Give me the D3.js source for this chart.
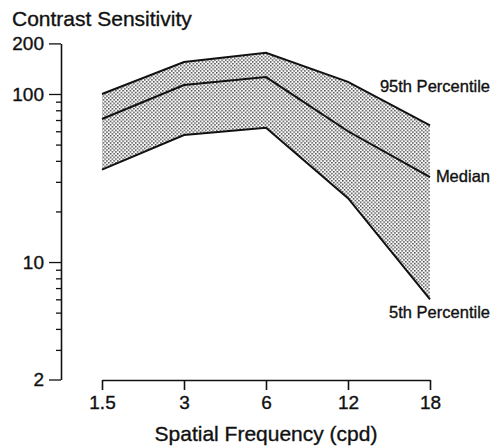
<!DOCTYPE html>
<html>
<head>
<meta charset="utf-8">
<script src="https://cdn.jsdelivr.net/npm/d3@7"></script>
<style>
  body { margin: 0; background: #fff; }
  text { font-family: Helvetica, Arial, "Liberation Sans", sans-serif; fill: #111; stroke: #111; stroke-width: 0.35px; }
</style>
</head>
<body>
<svg id="chart"></svg>
<script>
// spatial frequency (cpd) and contrast sensitivity percentiles
var freqs  = ["1.5", "3", "6", "12", "18"];
var p95    = [100, 155, 176, 118, 65];
var median = [71, 113, 126, 60, 32];
var p5     = [35.5, 57, 63, 24, 6];
var yTickLabels = [2, 10, 100, 200];
var curveNames = ["95th Percentile", "Median", "5th Percentile"];

var svgWidth = 493, svgHeight = 448;
var svg = d3.select("#chart").attr("width", svgWidth).attr("height", svgHeight);

var x = d3.scalePoint().domain(freqs).range([102, 430]);
var y = d3.scaleLog().domain([2, 200]).range([379.5, 43.4]);

// stipple fill for the band
var defs = svg.append("defs");
var pat = defs.append("pattern")
  .attr("id", "dots")
  .attr("patternUnits", "userSpaceOnUse")
  .attr("width", 3.6).attr("height", 3.6);
pat.append("rect").attr("x", 0).attr("y", 0).attr("width", 1.5).attr("height", 1.5).attr("fill", "#444");
pat.append("rect").attr("x", 1.8).attr("y", 1.8).attr("width", 1.5).attr("height", 1.5).attr("fill", "#444");

var rows = freqs.map(function(f, i) {
  return { f: f, hi: p95[i], mid: median[i], lo: p5[i] };
});

var area = d3.area()
  .x(function(d) { return x(d.f); })
  .y0(function(d) { return y(d.lo); })
  .y1(function(d) { return y(d.hi); });

svg.append("path").datum(rows)
  .attr("d", area)
  .attr("fill", "url(#dots)");

var series = [p95, median, p5];
var line = d3.line()
  .x(function(d, i) { return x(freqs[i]); })
  .y(function(d) { return y(d); });

svg.selectAll(".curve")
  .data(series)
  .enter()
  .append("path")
  .attr("class", "curve")
  .attr("d", line)
  .attr("fill", "none")
  .attr("stroke", "#111")
  .attr("stroke-width", 2);

// curve labels at right
var labelOffset = [-33, 5, 19];
svg.selectAll(".clabel")
  .data(series)
  .enter()
  .append("text")
  .attr("class", "clabel")
  .attr("x", 490)
  .attr("y", function(d, i) { return y(d[d.length - 1]) + labelOffset[i]; })
  .attr("text-anchor", "end")
  .style("font-size", "16.5px")
  .text(function(d, i) { return curveNames[i]; });

// y axis (log)
var yTicks = y.ticks().filter(function(v) { return v !== 150; });
var yAxis = d3.axisLeft(y)
  .tickValues(yTicks)
  .tickSize(0)
  .tickSizeOuter(0)
  .tickFormat(function(v) { return yTickLabels.indexOf(v) >= 0 ? v : ""; });

var gy = svg.append("g").attr("transform", "translate(61,0)").call(yAxis);
gy.select(".domain").attr("stroke", "#111").attr("stroke-width", 1.6);
gy.selectAll(".tick line")
  .attr("stroke", "#111")
  .attr("stroke-width", 1.3)
  .attr("x2", function(v) { return yTickLabels.indexOf(v) >= 0 ? -12 : -5; });
gy.selectAll(".tick text")
  .attr("x", -17)
  .style("font-size", "19px")
  .style("font-family", "Helvetica, Arial, 'Liberation Sans', sans-serif")
  .attr("fill", "#111");

// x axis
var xAxis = d3.axisBottom(x).tickSize(10).tickSizeOuter(0).tickPadding(6);
var gx = svg.append("g").attr("transform", "translate(0,380)").call(xAxis);
gx.select(".domain").attr("stroke", "#111").attr("stroke-width", 1.6);
gx.selectAll(".tick line").attr("stroke", "#111").attr("stroke-width", 1.6);
gx.selectAll(".tick text")
  .style("font-size", "19px")
  .style("font-family", "Helvetica, Arial, 'Liberation Sans', sans-serif")
  .attr("fill", "#111");

// titles
svg.append("text")
  .attr("x", 12).attr("y", 26)
  .style("font-size", "21px")
  .text("Contrast Sensitivity");

svg.append("text")
  .attr("x", (x.range()[0] + x.range()[1]) / 2).attr("y", 441)
  .attr("text-anchor", "middle")
  .style("font-size", "21px")
  .text("Spatial Frequency (cpd)");
</script>
</body>
</html>
